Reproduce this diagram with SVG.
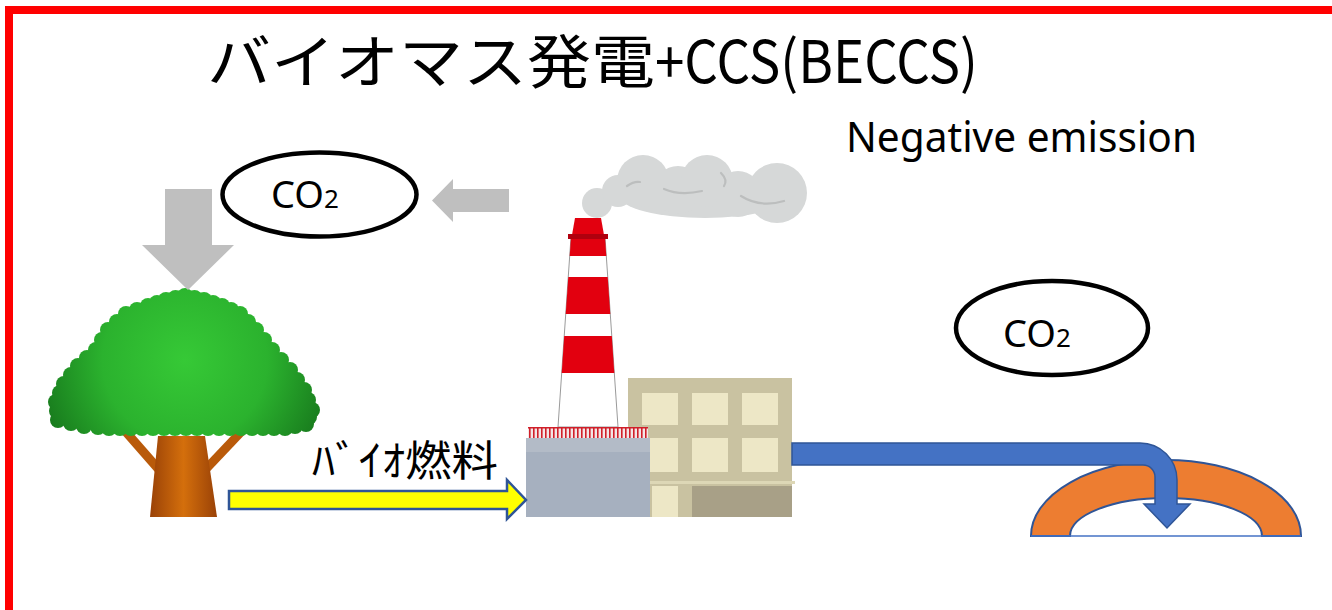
<svg xmlns="http://www.w3.org/2000/svg" width="1332" height="610" viewBox="0 0 1332 610">
  <defs>
    <radialGradient id="leaf" gradientUnits="userSpaceOnUse" cx="185" cy="360" r="150">
      <stop offset="0" stop-color="#36c936"/>
      <stop offset="0.55" stop-color="#2bb22e"/>
      <stop offset="1" stop-color="#187a1d"/>
    </radialGradient>
    <linearGradient id="bark" x1="0" y1="0" x2="1" y2="0">
      <stop offset="0" stop-color="#9a4207"/>
      <stop offset="0.5" stop-color="#d46f0c"/>
      <stop offset="1" stop-color="#9a4207"/>
    </linearGradient>
    <pattern id="fringe" width="4" height="11" patternUnits="userSpaceOnUse" x="528" y="427">
      <rect width="4" height="11" fill="#f4e6e6"/>
      <rect x="1" width="1.6" height="11" fill="#d0202a"/>
    </pattern>
  </defs>
  <style>
    .lbl { font-family: "Noto Sans", "Open Sans", sans-serif; fill: #000; }
    .jp { font-family: "Noto Sans CJK JP", "Noto Sans", sans-serif; fill: #000; }
    .oval { fill: #fff; stroke: #000; stroke-width: 4.5; }
    .leaf { fill: url(#leaf); }
    .red { fill: #e2000f; }
    .puff { fill: #d6d8d8; }
    .swirl { fill: none; stroke: #bcbebe; stroke-width: 2.2; stroke-linecap: round; }
    .gray-arrow { fill: #bfbfbf; }
    .win { fill: #ede7c6; }
  </style>

  <!-- frame -->
  <rect id="frame" x="9" y="10" width="1340" height="620" fill="none" stroke="#ff0000" stroke-width="8"/>

  <!-- heading -->
  <g id="title">
    <text class="jp" x="207" y="83" font-size="58" textLength="448" lengthAdjust="spacingAndGlyphs">バイオマス発電</text>
    <text class="jp" x="655" y="83" font-size="58" textLength="323" lengthAdjust="spacingAndGlyphs">+CCS(BECCS)</text>
  </g>

  <g id="negative-emission">
    <text class="lbl" x="846" y="152" font-size="41" textLength="351" lengthAdjust="spacingAndGlyphs">Negative emission</text>
  </g>

  <!-- CO2 in the air -->
  <g id="co2-air">
    <ellipse class="oval" cx="319.5" cy="194.5" rx="97" ry="42"/>
    <text class="lbl" x="271" y="208" font-size="38">CO<tspan font-size="26">2</tspan></text>
  </g>

  <!-- CO2 stored underground -->
  <g id="co2-stored">
    <ellipse class="oval" cx="1052" cy="328" rx="96" ry="47"/>
    <text class="lbl" x="1003" y="347" font-size="38">CO<tspan font-size="26">2</tspan></text>
  </g>

  <!-- tree -->
  <g id="tree">
    <line x1="126" y1="432" x2="161" y2="472" stroke="#b95a0a" stroke-width="9"/>
    <line x1="241" y1="432" x2="205" y2="470" stroke="#b95a0a" stroke-width="9"/>
    <polygon points="158,436 205,436 217,517 150,517" fill="url(#bark)"/>
    <g>
      <polygon class="leaf" points="58,420 56,402 64,384 78,366 96,350 108,330 126,314 148,306 166,300 185,296 204,300 222,306 240,314 256,330 272,350 290,370 304,390 312,410 306,424 285,428 110,428 84,426"/>
      <circle class="leaf" cx="58" cy="420" r="8"/>
      <circle class="leaf" cx="57" cy="411" r="8"/>
      <circle class="leaf" cx="56" cy="402" r="8"/>
      <circle class="leaf" cx="60" cy="393" r="8"/>
      <circle class="leaf" cx="64" cy="384" r="8"/>
      <circle class="leaf" cx="71" cy="375" r="8"/>
      <circle class="leaf" cx="78" cy="366" r="8"/>
      <circle class="leaf" cx="87" cy="358" r="8"/>
      <circle class="leaf" cx="96" cy="350" r="8"/>
      <circle class="leaf" cx="102" cy="340" r="8"/>
      <circle class="leaf" cx="108" cy="330" r="8"/>
      <circle class="leaf" cx="117" cy="322" r="8"/>
      <circle class="leaf" cx="126" cy="314" r="8"/>
      <circle class="leaf" cx="137" cy="310" r="8"/>
      <circle class="leaf" cx="148" cy="306" r="8"/>
      <circle class="leaf" cx="157" cy="303" r="8"/>
      <circle class="leaf" cx="166" cy="300" r="8"/>
      <circle class="leaf" cx="175.5" cy="298" r="8"/>
      <circle class="leaf" cx="185" cy="296" r="8"/>
      <circle class="leaf" cx="194.5" cy="298" r="8"/>
      <circle class="leaf" cx="204" cy="300" r="8"/>
      <circle class="leaf" cx="213" cy="303" r="8"/>
      <circle class="leaf" cx="222" cy="306" r="8"/>
      <circle class="leaf" cx="231" cy="310" r="8"/>
      <circle class="leaf" cx="240" cy="314" r="8"/>
      <circle class="leaf" cx="248" cy="322" r="8"/>
      <circle class="leaf" cx="256" cy="330" r="8"/>
      <circle class="leaf" cx="264" cy="340" r="8"/>
      <circle class="leaf" cx="272" cy="350" r="8"/>
      <circle class="leaf" cx="281" cy="360" r="8"/>
      <circle class="leaf" cx="290" cy="370" r="8"/>
      <circle class="leaf" cx="297" cy="380" r="8"/>
      <circle class="leaf" cx="304" cy="390" r="8"/>
      <circle class="leaf" cx="308" cy="400" r="8"/>
      <circle class="leaf" cx="312" cy="410" r="8"/>
      <circle class="leaf" cx="309" cy="417" r="8"/>
      <circle class="leaf" cx="306" cy="424" r="8"/>
      <circle class="leaf" cx="295" cy="426" r="8"/>
      <circle class="leaf" cx="285" cy="428" r="8"/>
      <circle class="leaf" cx="274" cy="428" r="8"/>
      <circle class="leaf" cx="263" cy="428" r="8"/>
      <circle class="leaf" cx="252" cy="428" r="8"/>
      <circle class="leaf" cx="241" cy="428" r="8"/>
      <circle class="leaf" cx="230" cy="428" r="8"/>
      <circle class="leaf" cx="219" cy="428" r="8"/>
      <circle class="leaf" cx="208" cy="428" r="8"/>
      <circle class="leaf" cx="197" cy="428" r="8"/>
      <circle class="leaf" cx="186" cy="428" r="8"/>
      <circle class="leaf" cx="175" cy="428" r="8"/>
      <circle class="leaf" cx="164" cy="428" r="8"/>
      <circle class="leaf" cx="153" cy="428" r="8"/>
      <circle class="leaf" cx="142" cy="428" r="8"/>
      <circle class="leaf" cx="131" cy="428" r="8"/>
      <circle class="leaf" cx="120" cy="428" r="8"/>
      <circle class="leaf" cx="109" cy="428" r="8"/>
      <circle class="leaf" cx="98" cy="427" r="8"/>
      <circle class="leaf" cx="84" cy="426" r="8"/>
      <circle class="leaf" cx="71" cy="423" r="8"/>
    </g>
  </g>

  <!-- smoke -->
  <g id="smoke">
    <ellipse class="puff" cx="705" cy="196" rx="85" ry="22"/>
    <circle class="puff" cx="597" cy="203" r="15"/>
    <circle class="puff" cx="618" cy="191" r="16"/>
    <circle class="puff" cx="643" cy="181" r="26"/>
    <circle class="puff" cx="678" cy="190" r="24"/>
    <circle class="puff" cx="707" cy="181" r="26"/>
    <circle class="puff" cx="738" cy="194" r="23"/>
    <circle class="puff" cx="777" cy="193" r="30"/>
    <path class="swirl" d="M627,186 Q634,181 640,182"/>
    <path class="swirl" d="M664,189 Q680,196 702,191"/>
    <path class="swirl" d="M721,173 Q728,180 724,186"/>
    <path class="swirl" d="M741,196 Q760,208 784,201"/>
  </g>

  <!-- power plant -->
  <g id="plant">
    <!-- office building -->
    <rect x="628" y="378" width="164" height="139" fill="#c9c2a1"/>
    <rect class="win" x="642" y="393" width="36" height="32"/>
    <rect class="win" x="692" y="393" width="36" height="32"/>
    <rect class="win" x="742" y="393" width="36" height="32"/>
    <rect class="win" x="642" y="438" width="36" height="34"/>
    <rect class="win" x="692" y="438" width="36" height="34"/>
    <rect class="win" x="742" y="438" width="36" height="34"/>
    <rect x="628" y="481" width="167" height="3" fill="#ddd7b6"/>
    <rect class="win" x="652" y="486" width="26" height="31"/>
    <rect x="692" y="486" width="100" height="31" fill="#a8a087"/>
    <!-- chimney -->
    <polygon points="571,237 605,237 618,427 558,427" fill="#fff" stroke="#9a9a9a" stroke-width="1"/>
    <polygon class="red" points="571,237 605,237 606.3,256 569.7,256"/>
    <polygon class="red" points="568.3,277 607.7,277 610.3,314 565.7,314"/>
    <polygon class="red" points="564.2,336 611.8,336 614.3,373 561.7,373"/>
    <polygon class="red" points="575,218 601,218 604,235 572,235"/>
    <rect x="568" y="234" width="40" height="5" fill="#b0000e"/>
    <!-- boiler house -->
    <rect x="528" y="427" width="120" height="11" fill="url(#fringe)"/>
    <rect x="528" y="427" width="120" height="1.5" fill="#d0202a"/>
    <rect x="526" y="438" width="124" height="79" fill="#a6b0bf"/>
    <rect x="526" y="438" width="124" height="14" fill="#b3bbc7"/>
  </g>

  <!-- storage formation -->
  <g id="storage">
    <path d="M1031,536 A135,76 0 0 1 1301,536 H1262 A96,38 0 0 0 1070,536 Z" fill="#ed7d31" stroke="#2f5597" stroke-width="2"/>
    <line x1="1031" y1="536" x2="1301" y2="536" stroke="#4472c4" stroke-width="1.5"/>
  </g>

  <!-- flows -->
  <g id="connectors">
    <path class="gray-arrow" d="M165,189 H212 V245 H234 L188,290 L142,245 H165 Z"/>
    <path class="gray-arrow" d="M509,189 V212 H453 V222 L432,200.5 L453,179 V189 Z"/>
    <path d="M229,491 H507 V480 L526,500 L507,519 V509 H229 Z" fill="#ffff00" stroke="#2f5597" stroke-width="2.5"/>
    <path d="M792,443 H1140 A37,37 0 0 1 1177,480 V504 H1190 L1167,528 L1144,504 H1155 V477 A12,12 0 0 0 1143,465 H792 Z" fill="#4472c4" stroke="#2f5597" stroke-width="1.5"/>
    <text class="jp" x="312" y="476" font-size="42" textLength="186" lengthAdjust="spacingAndGlyphs">ﾊﾞｲｵ燃料</text>
  </g>
</svg>
